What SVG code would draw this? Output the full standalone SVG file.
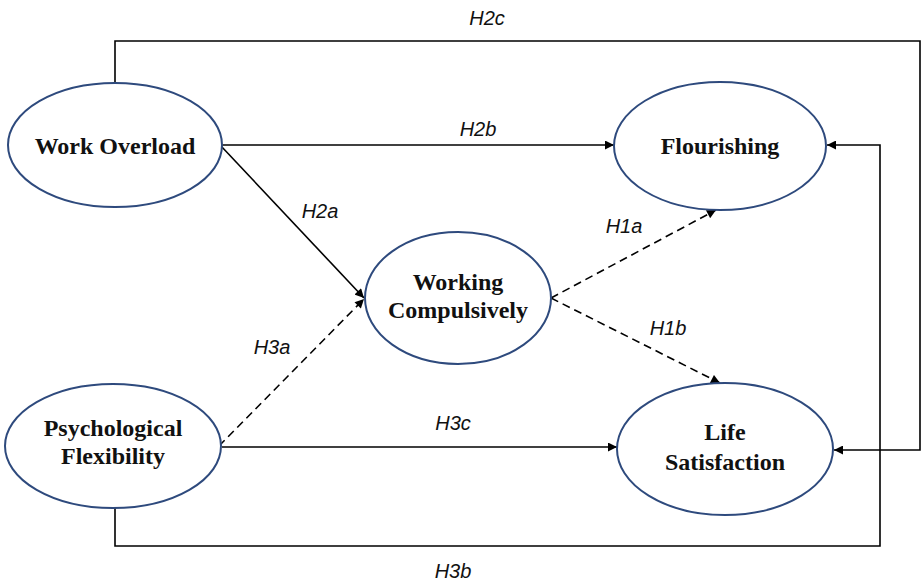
<svg xmlns="http://www.w3.org/2000/svg" width="923" height="581" viewBox="0 0 923 581">
<defs>
<style>
.node{fill:#fff;stroke:#2E4A7D;stroke-width:2}
.nl{font-family:"Liberation Serif","Times New Roman",serif;font-weight:bold;font-size:24px;fill:#111;text-anchor:middle}
.ln{fill:none;stroke:#000;stroke-width:1.6}
.dash{stroke-dasharray:8 5}
.lb{font-family:"Liberation Sans",Arial,sans-serif;font-style:italic;font-size:20px;fill:#111;text-anchor:middle}
</style>
<marker id="ah" viewBox="0 0 10 10" refX="10" refY="5" markerWidth="10" markerHeight="9" markerUnits="userSpaceOnUse" orient="auto">
<path d="M0,0 L10,5 L0,10 Z" fill="#000"/>
</marker>
</defs>
<rect width="923" height="581" fill="#fff"/>
<g id="connectors">
<path class="ln" d="M115,83 V41 H920 V450 H834" marker-end="url(#ah)"/>
<path class="ln" d="M115,508 V546 H880 V145 H827" marker-end="url(#ah)"/>
<path class="ln" d="M221,145 H614" marker-end="url(#ah)"/>
<path class="ln" d="M221,146 L364,298" marker-end="url(#ah)"/>
<path class="ln dash" d="M219,446 L364,299" marker-end="url(#ah)"/>
<path class="ln" d="M222,447 H617" marker-end="url(#ah)"/>
<path class="ln dash" d="M551,298 L716,210" marker-end="url(#ah)"/>
<path class="ln dash" d="M551,298 L720,383" marker-end="url(#ah)"/>
</g>
<g id="labels">
<text class="lb" x="487" y="25">H2c</text>
<text class="lb" x="478" y="136">H2b</text>
<text class="lb" x="320" y="218">H2a</text>
<text class="lb" x="624" y="233">H1a</text>
<text class="lb" x="668" y="335">H1b</text>
<text class="lb" x="272" y="354">H3a</text>
<text class="lb" x="453" y="430">H3c</text>
<text class="lb" x="453" y="578">H3b</text>
</g>
<g id="work-overload">
<ellipse class="node" cx="115" cy="145" rx="107" ry="62"/>
<text class="nl" x="115" y="154">Work Overload</text>
</g>
<g id="flourishing">
<ellipse class="node" cx="720" cy="146" rx="106" ry="64"/>
<text class="nl" x="720" y="154">Flourishing</text>
</g>
<g id="working-compulsively">
<ellipse class="node" cx="458" cy="298" rx="93" ry="66"/>
<text class="nl" x="458" y="290">Working</text>
<text class="nl" x="458" y="318">Compulsively</text>
</g>
<g id="psychological-flexibility">
<ellipse class="node" cx="113" cy="446" rx="108" ry="62"/>
<text class="nl" x="113" y="436">Psychological</text>
<text class="nl" x="113" y="464">Flexibility</text>
</g>
<g id="life-satisfaction">
<ellipse class="node" cx="725" cy="449" rx="108" ry="66"/>
<text class="nl" x="725" y="440">Life</text>
<text class="nl" x="725" y="470">Satisfaction</text>
</g>
</svg>
